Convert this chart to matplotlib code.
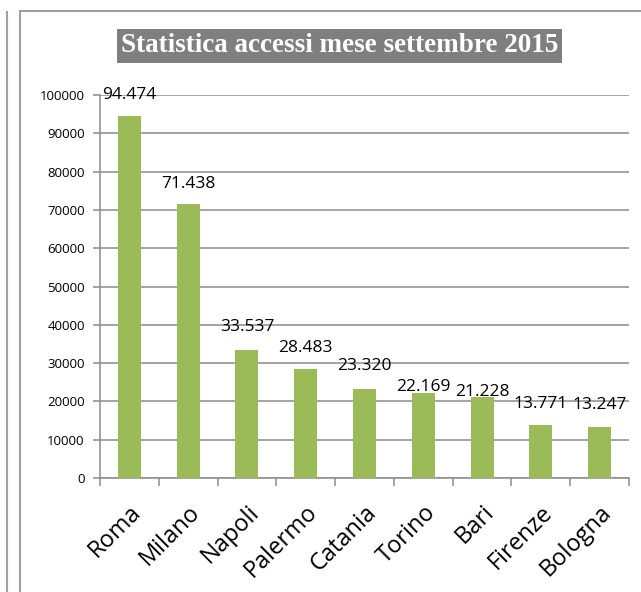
import matplotlib.pyplot as plt
from matplotlib.patches import Rectangle
from matplotlib.lines import Line2D

cities = ["Roma", "Milano", "Napoli", "Palermo", "Catania", "Torino", "Bari", "Firenze", "Bologna"]
accessi = [94474, 71438, 33537, 28483, 23320, 22169, 21228, 13771, 13247]
y_ticks = [0, 10000, 20000, 30000, 40000, 50000, 60000, 70000, 80000, 90000, 100000]
title = "Statistica accessi mese settembre 2015"

# label offsets above bar top (points), as placed in the original
label_offsets = [15, 15, 16.5, 15, 16, 4.5, 3.5, 15, 16]

W, H = 641, 592
fig = plt.figure(figsize=(W / 100, H / 100), dpi=100)

# outer frame lines
fig.add_artist(Line2D([7 / W, 7 / W], [0, 1 - 12 / H], color="#a0a0a0", lw=1.5))
fig.add_artist(Rectangle((20 / W, -0.05), 1.0, 1 - 11 / H + 0.05, fill=False,
                         edgecolor="#a0a0a0", lw=1.5))

ax = fig.add_axes([100 / W, 1 - 478 / H, (629 - 100) / W, (478 - 95) / H])
x = list(range(len(cities)))
bars = ax.bar(x, accessi, width=0.39, color="#9BBB59", zorder=3)

ax.set_xlim(-0.5, len(cities) - 0.5)
ax.set_ylim(0, 100000)
ax.set_yticks(y_ticks)
ax.set_yticklabels([str(v) for v in y_ticks], fontsize=9.5, family="Open Sans")
ax.yaxis.grid(True, color="#8c8c8c", lw=1.1, zorder=0)

ax.set_xticks(x)
ax.set_xticklabels(cities, rotation=45, ha="right", rotation_mode="anchor",
                   fontsize=17, family="Open Sans")
ax.set_xticks([i - 0.5 for i in range(len(cities) + 1)], minor=True)
ax.tick_params(axis="x", which="major", length=0, pad=16)
ax.tick_params(axis="x", which="minor", length=6, color="#8c8c8c", width=1.1)
ax.tick_params(axis="y", length=5, color="#8c8c8c", width=1.1, pad=6)

for s in ["top", "right"]:
    ax.spines[s].set_visible(False)
for s in ["left", "bottom"]:
    ax.spines[s].set_color("#8c8c8c")
    ax.spines[s].set_linewidth(1.1)

for xi, v, off in zip(x, accessi, label_offsets):
    ax.annotate(f"{v:,}".replace(",", "."), (xi, v), xytext=(0, off),
                textcoords="offset points", ha="center", va="center",
                fontsize=12.5, family="Open Sans", zorder=5)

fig.text(339.5 / W, 1 - 46 / H, title, ha="center", va="center", color="white",
         fontsize=19.5, fontweight="bold", family="Liberation Serif",
         bbox=dict(boxstyle="square,pad=0.15", facecolor="#7f7f7f", edgecolor="none"))

fig.savefig("out.png", dpi=100)
